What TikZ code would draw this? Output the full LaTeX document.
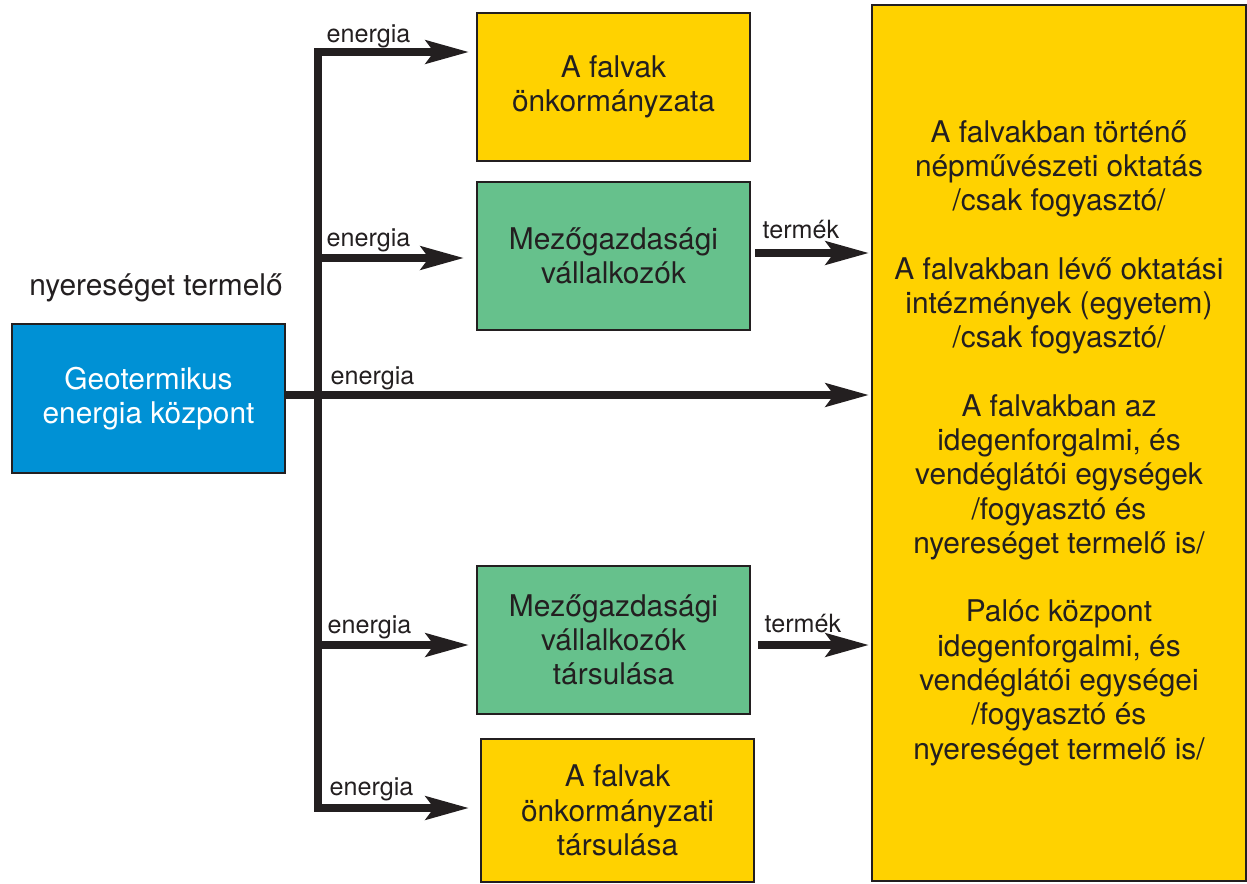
\documentclass[tikz,border=0pt]{standalone}
\usepackage{fontspec}
\setmainfont{TeX Gyre Heros}
\usetikzlibrary{arrows.meta}
\definecolor{ink}{HTML}{231F20}
\definecolor{sarga}{HTML}{FFD200}
\definecolor{zold}{HTML}{66C18C}
\definecolor{kek}{HTML}{0091D5}
\begin{document}
\begin{tikzpicture}[x=0.02cm, y=-0.02cm, thick,
    main/.style = {draw=ink, line width=0.04cm, align=center, inner sep=0pt, text=ink, font=\fontsize{17}{19.5}\selectfont},
    lab/.style = {anchor=base west, inner sep=0pt, text=ink, font=\fontsize{14.3}{16}\selectfont},
    arr/.style = {draw=ink, line width=0.16cm, -{Stealth[length=0.86cm, width=0.46cm, inset=0.16cm]}}]
        \useasboundingbox (0,0) rectangle (1247,883);
        \node[main, fill=kek, text=white, minimum width=5.46cm, minimum height=2.98cm] (1) at (148.5,398.5) {Geotermikus\\energia központ};
        \node[main, fill=sarga, minimum width=5.46cm, minimum height=2.96cm] (2) at (613.5,87) {A falvak\\önkormányzata};
        \node[main, fill=zold, minimum width=5.46cm, minimum height=2.96cm] (3) at (613.5,256) {Mezőgazdasági\\vállalkozók};
        \node[main, fill=zold, minimum width=5.46cm, minimum height=2.96cm] (4) at (613.5,640) {Mezőgazdasági\\vállalkozók\\társulása};
        \node[main, fill=sarga, minimum width=5.46cm, minimum height=2.86cm] (5) at (617.5,810.5) {A falvak\\önkormányzati\\társulása};
        \node[main, fill=sarga, minimum width=7.48cm, minimum height=17.52cm] (6) at (1059,443) {A falvakban történő\\népművészeti oktatás\\/csak fogyasztó/\\[19.5pt]
            A falvakban lévő oktatási\\intézmények (egyetem)\\/csak fogyasztó/\\[19.5pt]
            A falvakban az\\idegenforgalmi, és\\vendéglátói egységek\\/fogyasztó és\\nyereséget termelő is/\\[19.5pt]
            Palóc központ\\idegenforgalmi, és\\vendéglátói egységei\\/fogyasztó és\\nyereséget termelő is/};
        \node[text=ink, inner sep=0pt, font=\fontsize{17}{19.5}\selectfont] (7) at (156,288) {nyereséget termelő};
        \coordinate (b1) at (318,52);
        \coordinate (b2) at (318,258);
        \coordinate (b3) at (318,395);
        \coordinate (b4) at (318,645);
        \coordinate (b5) at (318,808);
        \coordinate (t1) at (755,253);
        \coordinate (t2) at (758,645);
        \draw[ink, line width=0.16cm, line cap=rect] (b1) -- (b5);
        \draw[arr, shorten >=0.14cm] (b1) -- (2.west |- b1);
        \draw[arr, shorten >=0.24cm] (b2) -- (3.west |- b2);
        \draw[arr, shorten >=0.04cm] (1.east |- b3) -- (6.west |- b3);
        \draw[arr, shorten >=0.14cm] (b4) -- (4.west |- b4);
        \draw[arr, shorten >=0.22cm] (b5) -- (5.west |- b5);
        \draw[arr, shorten >=0.04cm] (t1) -- (6.west |- t1);
        \draw[arr, shorten >=0.04cm] (t2) -- (6.west |- t2);
        \node[lab] (e1) at (326,42) {energia};
        \node[lab] (e2) at (326,246) {energia};
        \node[lab] (e3) at (330,384) {energia};
        \node[lab] (e4) at (327,633) {energia};
        \node[lab] (e5) at (329,795) {energia};
        \node[lab] (m1) at (762,238) {termék};
        \node[lab] (m2) at (764,632) {termék};
\end{tikzpicture}
\end{document}
